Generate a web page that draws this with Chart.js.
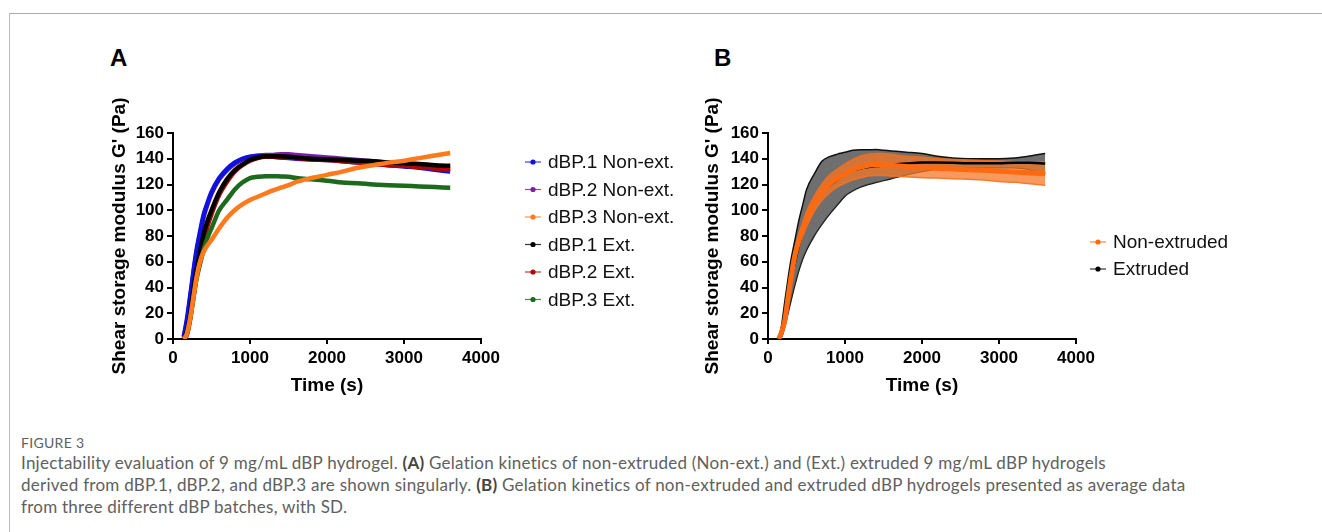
<!DOCTYPE html>
<html>
<head>
<meta charset="utf-8">
<script src="https://cdn.jsdelivr.net/npm/chart.js@4.4.1/dist/chart.umd.min.js"></script>
<style>
  html, body { margin: 0; padding: 0; background: #fff; }
  body { width: 1322px; height: 532px; position: relative; overflow: hidden; font-family: "Liberation Sans", Arial, sans-serif; }
  #frame { position: absolute; left: 9px; top: 13px; width: 1400px; height: 600px; border-top: 1px solid #aaa; border-left: 1px solid #bbb; }
  .panel { position: absolute; top: 40px; }
  .tag { position: absolute; top: 44px; font: bold 24px "Liberation Sans", Arial, sans-serif; color: #000; }
  #caption { position: absolute; left: 21px; top: 433px; color: #606060; font-family: Lato, "Open Sans", sans-serif; }
  #caption .fig { font-size: 14px; letter-spacing: 0.3px; line-height: 19px; }
  #caption p { margin: 0; font-size: 17px; letter-spacing: 0.25px; line-height: 22px; white-space: nowrap; }
  #caption b { color: #444; }
</style>
</head>
<body>
<div id="frame"></div>
<div class="tag" style="left:110px">A</div>
<div class="tag" style="left:714px">B</div>
<div class="panel" style="left:100px"><canvas id="chartA" width="600" height="370"></canvas></div>
<div class="panel" style="left:700px"><canvas id="chartB" width="622" height="370"></canvas></div>
<div id="caption">
  <div class="fig">FIGURE 3</div>
  <p>Injectability evaluation of 9 mg/mL dBP hydrogel. <b>(A)</b> Gelation kinetics of non-extruded (Non-ext.) and (Ext.) extruded 9 mg/mL dBP hydrogels<br>derived from dBP.1, dBP.2, and dBP.3 are shown singularly. <b>(B)</b> Gelation kinetics of non-extruded and extruded dBP hydrogels presented as average data<br>from three different dBP batches, with SD.</p>
</div>
<script>
// time (s), shared by every curve
var Tiempo = [140, 180, 220, 260, 300, 350, 400, 450, 500, 600, 700, 800, 900, 1000, 1100, 1200, 1300, 1400, 1500, 1600, 1800, 2000, 2200, 2400, 2600, 2800, 3000, 3200, 3400, 3600];

// panel A, G' (Pa) of each batch
var dBP1NonExt = [2, 15, 32, 50, 67, 83, 97, 106, 114, 125, 132, 137, 140, 141.5, 142, 142, 141.5, 141, 140.5, 140, 139.5, 139, 138, 137, 136, 135, 134, 133, 131.5, 130];
var dBP2NonExt = [1, 13, 30, 48, 65, 81, 95, 105, 113, 124, 131, 136, 139.5, 141.5, 142.5, 143, 143, 143.5, 143.5, 143, 142, 141, 140, 139, 138, 137, 136, 135, 134, 133];
var dBP3NonExt = [0, 4, 15, 30, 46, 60, 68, 73, 77, 86, 94, 100, 104.5, 108, 110.5, 113, 115.5, 117.5, 119.5, 122, 125, 127.5, 130, 133, 135, 137, 138.5, 140.5, 142.5, 144.5];
var dBP1Ext = [0, 6, 18, 36, 52, 67, 82, 92, 100, 114, 124, 131, 135.5, 139, 141, 142, 142, 142, 141.5, 141, 140, 139.5, 139, 138.5, 138, 137, 136.5, 136, 135, 134.5];
var dBP2Ext = [0, 3, 14, 30, 46, 62, 77, 88, 97, 112, 122, 130, 135, 138.5, 140.5, 141.5, 141.5, 141, 141, 140.5, 139.5, 139, 138, 137, 136, 135, 134.5, 133.5, 132.5, 131.5];
var dBP3Ext = [0, 4, 15, 30, 45, 58, 70, 79, 86, 100, 108, 116, 121.5, 125, 126, 126.5, 126.5, 126.2, 126, 125, 124, 123, 121.5, 121, 120, 119.5, 119, 118.5, 118, 117.5];
var NombresA = ['dBP.1 Non-ext.', 'dBP.2 Non-ext.', 'dBP.3 Non-ext.', 'dBP.1 Ext.', 'dBP.2 Ext.', 'dBP.3 Ext.'];
var ColoresA = ['#1010e0', '#7a1fa6', '#ff7a1c', '#000000', '#b00808', '#1c6a1c'];

// panel B, mean and SD of the three batches
var NonExtMedia = [0, 6, 15, 32, 48, 65, 76, 85, 93, 105, 114, 120.5, 125, 128.5, 131.5, 133.5, 135, 135.5, 135.5, 135, 134, 133.3, 132.5, 132, 131.5, 131, 130.3, 129.7, 129, 128.4];
var NonExtSD = [0, 1, 2, 3, 4, 5, 5, 5.5, 6, 6, 6.5, 7, 7, 7.5, 8, 8.5, 8.5, 8.5, 8.5, 8.5, 8, 8, 7.5, 7.5, 7.5, 7.5, 8, 8, 8.5, 9];
var ExtMedia = [0, 7, 20, 33.5, 46, 59.5, 72.5, 83, 92.5, 104, 113.5, 119.3, 123.8, 128, 130.8, 132.5, 133.5, 134.3, 134.8, 135.3, 136.3, 137, 137, 136.8, 136.5, 136.5, 136.5, 136.8, 136.8, 136.3];
var ExtSD = [0, 5, 10, 13.5, 16, 17.5, 19.5, 21, 23.5, 24, 24.5, 22.3, 19.8, 17, 15.8, 14.5, 13.5, 12.8, 11.8, 10.8, 8.8, 7, 5, 3.8, 3.5, 3.5, 3.5, 3.8, 5.3, 7.8];
var NombresB = ['Non-extruded', 'Extruded'];
var ColoresB = ['#ff6a10', '#000000'];

var TicksX = [0, 1000, 2000, 3000, 4000];
var TicksY = [0, 20, 40, 60, 80, 100, 120, 140, 160];

function Puntos(valores, signo, sd)
{
    return Tiempo.map(function(t, i) {
        var v = valores[i];
        if (sd) v = v + signo * sd[i];
        return {x: t, y: v};
    });
}

// legend drawn as "-•- label" like the original figure
var LeyendaLinea = {
    id: 'leyendaLinea',
    afterDraw: function(chart, args, opts)
    {
        var ctx = chart.ctx;
        var x = chart.chartArea.right + opts.dx;
        opts.items.forEach(function(it, i) {
            var y = opts.top + i * opts.gap;
            ctx.save();
            ctx.strokeStyle = it.color;
            ctx.globalAlpha = 0.8;
            ctx.lineWidth = 1.2;
            ctx.beginPath(); ctx.moveTo(x, y); ctx.lineTo(x + 16, y); ctx.stroke();
            ctx.globalAlpha = 1;
            ctx.fillStyle = it.color;
            ctx.beginPath(); ctx.arc(x + 8, y, 2.6, 0, Math.PI * 2); ctx.fill();
            ctx.fillStyle = '#111';
            ctx.font = '19px "Liberation Sans", Arial, sans-serif';
            ctx.textBaseline = 'middle';
            ctx.fillText(it.text, x + 23, y + 1);
            ctx.restore();
        });
    }
};

function Escalas(anchoY)
{
    var negro = '#000';
    return {
        x: {
            type: 'linear', min: 0, max: 4000,
            afterBuildTicks: function(s) { s.ticks = TicksX.map(function(v) { return {value: v}; }); },
            afterFit: function(s) { s.height = 71; },
            border: {display: true, color: negro, width: 2},
            grid: {drawOnChartArea: false, drawTicks: true, tickLength: 5, color: negro, lineWidth: 2},
            ticks: {color: negro, padding: 4, maxRotation: 0, callback: function(v) { return String(v); }, font: {family: 'Liberation Sans', size: 17, weight: 'bold'}},
            title: {display: true, text: 'Time (s)', color: negro, padding: {top: 0, bottom: 13}, font: {family: 'Liberation Sans', size: 19, weight: 'bold'}}
        },
        y: {
            type: 'linear', min: 0, max: 160,
            afterBuildTicks: function(s) { s.ticks = TicksY.map(function(v) { return {value: v}; }); },
            afterFit: function(s) { s.width = anchoY; },
            border: {display: true, color: negro, width: 2},
            grid: {drawOnChartArea: false, drawTicks: true, tickLength: 6, color: negro, lineWidth: 2},
            ticks: {color: negro, padding: 3, callback: function(v) { return String(v); }, font: {family: 'Liberation Sans', size: 17, weight: 'bold'}},
            title: {display: true, text: "Shear storage modulus G' (Pa)", color: negro, padding: 0, font: {family: 'Liberation Sans', size: 19, weight: 'bold'}}
        }
    };
}

function GraficaA()
{
    var series = [dBP1NonExt, dBP2NonExt, dBP3NonExt, dBP1Ext, dBP2Ext, dBP3Ext];
    var orden = [5, 6, 1, 3, 4, 2];
    var datasets = series.map(function(s, i) {
        return {
            label: NombresA[i], data: Puntos(s), borderColor: ColoresA[i], backgroundColor: ColoresA[i],
            borderWidth: 4.5, pointRadius: 0, cubicInterpolationMode: 'monotone', order: orden[i]
        };
    });
    var ctx = document.getElementById('chartA').getContext('2d');
    new Chart(ctx, {
        type: 'line',
        data: {datasets: datasets},
        options: {
            responsive: false, animation: false,
            layout: {padding: {left: 8, top: 93, right: 219, bottom: 0}},
            scales: Escalas(65),
            plugins: {
                legend: {display: false}, tooltip: {enabled: false},
                leyendaLinea: {dx: 44, top: 122, gap: 27.5, items: NombresA.map(function(n, i) { return {text: n, color: ColoresA[i]}; })}
            }
        },
        plugins: [LeyendaLinea]
    });
}

function GraficaB()
{
    var datasets = [
        {label: 'ext+', data: Puntos(ExtMedia, 1, ExtSD), borderColor: '#111', borderWidth: 1.5, backgroundColor: 'rgba(70,70,70,0.78)', fill: '+1', order: 6},
        {label: 'ext-', data: Puntos(ExtMedia, -1, ExtSD), borderColor: '#111', borderWidth: 1.5, order: 6},
        {label: 'nonext+', data: Puntos(NonExtMedia, 1, NonExtSD), borderColor: 'rgba(240,110,30,0.9)', borderWidth: 1.5, backgroundColor: 'rgba(245,120,40,0.75)', fill: '+1', order: 4},
        {label: 'nonext-', data: Puntos(NonExtMedia, -1, NonExtSD), borderColor: 'rgba(240,110,30,0.9)', borderWidth: 1.5, order: 4},
        {label: NombresB[1], data: Puntos(ExtMedia), borderColor: ColoresB[1], borderWidth: 2.5, order: 2},
        {label: NombresB[0], data: Puntos(NonExtMedia), borderColor: ColoresB[0], borderWidth: 5, order: 1}
    ];
    datasets.forEach(function(d) {
        d.pointRadius = 0;
        d.cubicInterpolationMode = 'monotone';
        if (!d.fill) d.fill = false;
    });
    var ctx = document.getElementById('chartB').getContext('2d');
    new Chart(ctx, {
        type: 'line',
        data: {datasets: datasets},
        options: {
            responsive: false, animation: false,
            layout: {padding: {left: 1, top: 93, right: 246, bottom: 0}},
            scales: Escalas(67),
            plugins: {
                legend: {display: false}, tooltip: {enabled: false},
                leyendaLinea: {dx: 14, top: 202, gap: 27, items: NombresB.map(function(n, i) { return {text: n, color: ColoresB[i]}; })}
            }
        },
        plugins: [LeyendaLinea]
    });
}

GraficaA();
GraficaB();
</script>
</body>
</html>
